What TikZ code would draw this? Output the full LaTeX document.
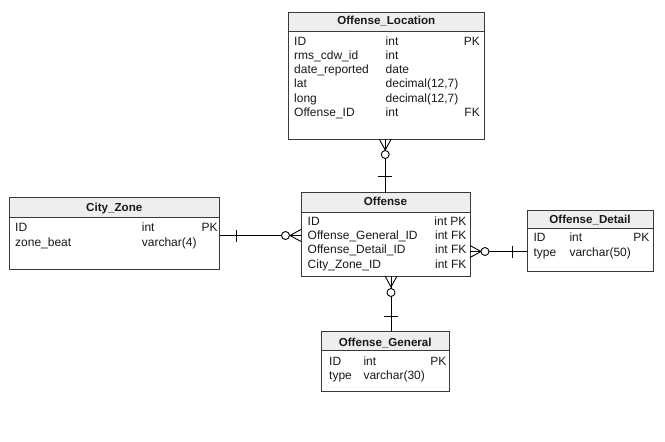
\documentclass[tikz,border=0pt]{standalone}
\usepackage{fontspec}
\setmainfont{Liberation Sans}
\usetikzlibrary{calc}
\definecolor{hdrgray}{HTML}{EEEEEE}
\definecolor{edgegray}{HTML}{3A3A3A}
\begin{document}
\begin{tikzpicture}[x=1pt,y=-1pt,
  tbl/.style={draw=edgegray, line width=0.9pt, anchor=north west, inner sep=0pt, outer sep=0pt, fill=white},
  hdr/.style={fill=hdrgray, draw=edgegray, line width=0.9pt},
  ttl/.style={font=\fontsize{11.6}{14}\selectfont\bfseries, anchor=base, inner sep=0pt, text=black!90},
  cell/.style={font=\fontsize{12}{14}\selectfont, anchor=base west, inner sep=0pt, text=black!90},
  cellr/.style={font=\fontsize{12}{14}\selectfont, anchor=base east, inner sep=0pt, text=black!90},
  conn/.style={draw=black, line width=0.9pt},
  ring/.style={draw=black, line width=0.9pt, fill=white}]
\useasboundingbox[fill=white] (0,0) rectangle (665,442);

% ---------- Offense_Location ----------
\node[tbl, minimum width=195.5pt, minimum height=127pt] (loc) at (288.5,12) {};
\draw[hdr] (loc.north west) rectangle ($(loc.north east)+(0,19.5)$);
\node[ttl] (locT) at ($(loc.north)+(0,12)$) {Offense\_Location};
\node[cell] (l1a) at (294,45) {ID};
\node[cell] (l1b) at (385.5,45) {int};
\node[cellr] (l1c) at (480,45) {PK};
\node[cell] (l2a) at (294,59.3) {rms\_cdw\_id};
\node[cell] (l2b) at (385.5,59.3) {int};
\node[cell] (l3a) at (294,73.6) {date\_reported};
\node[cell] (l3b) at (385.5,73.6) {date};
\node[cell] (l4a) at (294,87.9) {lat};
\node[cell] (l4b) at (385.5,87.9) {decimal(12,7)};
\node[cell] (l5a) at (294,102.2) {long};
\node[cell] (l5b) at (385.5,102.2) {decimal(12,7)};
\node[cell] (l6a) at (294,116.5) {Offense\_ID};
\node[cell] (l6b) at (385.5,116.5) {int};
\node[cellr] (l6c) at (480,116.5) {FK};

% ---------- City_Zone ----------
\node[tbl, minimum width=210.5pt, minimum height=72pt] (cz) at (9,197.5) {};
\draw[hdr] (cz.north west) rectangle ($(cz.north east)+(0,19.5)$);
\node[ttl] (czT) at ($(cz.north)+(0,13.5)$) {City\_Zone};
\node[cell] (c1a) at (15,231.7) {ID};
\node[cell] (c1b) at (141.7,231.7) {int};
\node[cellr] (c1c) at (217.8,231.7) {PK};
\node[cell] (c2a) at (15,246) {zone\_beat};
\node[cell] (c2b) at (141.7,246) {varchar(4)};

% ---------- Offense ----------
\node[tbl, minimum width=169pt, minimum height=83.5pt] (off) at (301,192.5) {};
\draw[hdr] (off.north west) rectangle ($(off.north east)+(0,19.5)$);
\node[ttl] (offT) at ($(off.north)+(0,12.5)$) {Offense};
\node[cell] (o1a) at (307.5,225) {ID};
\node[cellr] (o1b) at (466.7,225) {int PK};
\node[cell] (o2a) at (307.5,239.3) {Offense\_General\_ID};
\node[cellr] (o2b) at (466.7,239.3) {int FK};
\node[cell] (o3a) at (307.5,253.6) {Offense\_Detail\_ID};
\node[cellr] (o3b) at (466.7,253.6) {int FK};
\node[cell] (o4a) at (307.5,268) {City\_Zone\_ID};
\node[cellr] (o4b) at (466.7,268) {int FK};

% ---------- Offense_Detail ----------
\node[tbl, minimum width=126pt, minimum height=61.5pt] (det) at (527,210) {};
\draw[hdr] (det.north west) rectangle ($(det.north east)+(0,18.5)$);
\node[ttl] (detT) at ($(det.north)+(0,13.3)$) {Offense\_Detail};
\node[cell] (d1a) at (533.3,241.7) {ID};
\node[cell] (d1b) at (569.3,241.7) {int};
\node[cellr] (d1c) at (649.5,241.7) {PK};
\node[cell] (d2a) at (533.3,256) {type};
\node[cell] (d2b) at (569.3,256) {varchar(50)};

% ---------- Offense_General ----------
\node[tbl, minimum width=127.5pt, minimum height=60pt] (gen) at (321.5,331) {};
\draw[hdr] (gen.north west) rectangle ($(gen.north east)+(0,19)$);
\node[ttl] (genT) at ($(gen.north)+(0,15)$) {Offense\_General};
\node[cell] (g1a) at (329,365) {ID};
\node[cell] (g1b) at (363.3,365) {int};
\node[cellr] (g1c) at (446.7,365) {PK};
\node[cell] (g2a) at (329,379.3) {type};
\node[cell] (g2b) at (363.3,379.3) {varchar(30)};

% ---------- Connectors ----------
% Offense_Location (many, optional) -- Offense (one)
\coordinate (a1) at ($(loc.south)+(-1,0)$);
\coordinate (a2) at (a1 |- off.north);
\draw[conn] (a1) -- (a2);
\draw[conn] ($(a1)+(-6,0)$) -- ($(a1)+(0,11)$) -- ($(a1)+(6,0)$);
\draw[ring] ($(a1)+(0,15.5)$) circle (4);
\draw[conn] ($(a2)+(-7,-16.5)$) -- ($(a2)+(7,-16.5)$);

% City_Zone (one) -- Offense (many, optional)
\coordinate (b1) at (cz.east |- 0,235.5);
\coordinate (b2) at (off.west |- b1);
\draw[conn] (b1) -- (b2);
\draw[conn] ($(b1)+(16.5,-6)$) -- ($(b1)+(16.5,6)$);
\draw[conn] ($(b2)+(0,-6)$) -- ($(b2)+(-11,0)$) -- ($(b2)+(0,6)$);
\draw[ring] ($(b2)+(-15.5,0)$) circle (4);

% Offense (many, optional) -- Offense_Detail (one)
\coordinate (c1) at (off.east |- 0,251.5);
\coordinate (c2) at (det.west |- c1);
\draw[conn] (c1) -- (c2);
\draw[conn] ($(c1)+(0,-6)$) -- ($(c1)+(11,0)$) -- ($(c1)+(0,6)$);
\draw[ring] ($(c1)+(15,0)$) circle (4);
\draw[conn] ($(c2)+(-15,-6)$) -- ($(c2)+(-15,6)$);

% Offense (many, optional) -- Offense_General (one)
\coordinate (e1) at (off.south -| 391,0);
\coordinate (e2) at (gen.north -| e1);
\draw[conn] (e1) -- (e2);
\draw[conn] ($(e1)+(-6,0)$) -- ($(e1)+(0,11)$) -- ($(e1)+(6,0)$);
\draw[ring] ($(e1)+(0,16.5)$) circle (4);
\draw[conn] ($(e2)+(-7,-14.5)$) -- ($(e2)+(7,-14.5)$);
\end{tikzpicture}
\end{document}
